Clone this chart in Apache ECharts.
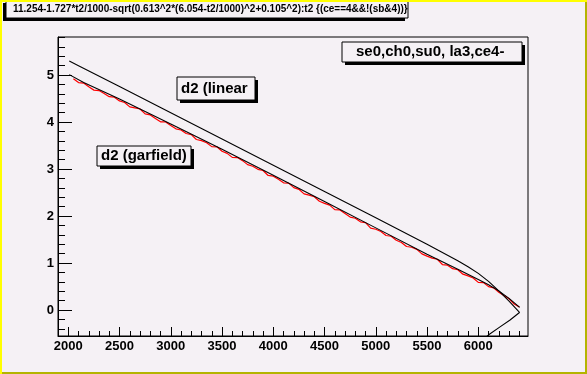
<!DOCTYPE html>
<html>
<head>
<meta charset="utf-8">
<script src="https://cdn.jsdelivr.net/npm/echarts@6/dist/echarts.min.js"></script>
<style>
html,body{margin:0;padding:0;background:#f5f1f5;}
#chart{width:587px;height:374px;}
</style>
</head>
<body>
<div id="chart"></div>
<script>
// ---- data ----
var titleText = "11.254-1.727*t2/1000-sqrt(0.613^2*(6.054-t2/1000)^2+0.105^2):t2 {(ce==4&&!(sb&4))}";
var legendText = "se0,ch0,su0, la3,ce4-";
var labelLinear = "d2 (linear";
var labelGarfield = "d2 (garfield)";

var xMajorTicks = [2000, 2500, 3000, 3500, 4000, 4500, 5000, 5500, 6000];
var xMinorTicks = [1900,2000,2100,2200,2300,2400,2500,2600,2700,2800,2900,3000,3100,3200,3300,3400,3500,3600,3700,3800,3900,4000,4100,4200,4300,4400,4500,4600,4700,4800,4900,5000,5100,5200,5300,5400,5500,5600,5700,5800,5900,6000,6100,6200,6300,6400];
var yMajorTicks = [0, 1, 2, 3, 4, 5];
var yMinorTicks = [-0.4,-0.2,0.2,0.4,0.6,0.8,1.2,1.4,1.6,1.8,2.2,2.4,2.6,2.8,3.2,3.4,3.6,3.8,4.2,4.4,4.6,4.8,5.2,5.4,5.6,5.8];

// "linear" curve (upper), running to a vertex and folding back
var linearT2 = [2010, 2100, 2500, 3000, 3500, 4000, 4500, 5000, 5500, 5700, 5800, 5900, 6000, 6100, 6200, 6300, 6402, 6310, 6212, 6098, 6070];
var linearD2 = [5.30, 5.20, 4.755, 4.198, 3.640, 3.083, 2.524, 1.964, 1.400, 1.169, 1.050, 0.924, 0.782, 0.611, 0.409, 0.190, -0.05, -0.21, -0.355, -0.53, -0.58];

// "garfield" curve (lower, black)
var garfieldT2 = [2010, 2150, 2500, 3000, 3500, 4000, 4500, 5000, 5500, 5800, 6000, 6100, 6200, 6300, 6404];
var garfieldD2 = [5.01, 4.84, 4.49, 3.96, 3.42, 2.87, 2.31, 1.75, 1.19, 0.87, 0.65, 0.54, 0.41, 0.25, 0.06];

// red points scattered around (mostly just below) the garfield curve
var redT2 = [2050,2100,2150,2200,2250,2300,2350,2400,2450,2500,2550,2600,2650,2700,2750,2800,2850,2900,2950,3000,3050,3100,3150,3200,3250,3300,3350,3400,3450,3500,3550,3600,3650,3700,3750,3800,3850,3900,3950,4000,4050,4100,4150,4200,4250,4300,4350,4400,4450,4500,4550,4600,4650,4700,4750,4800,4850,4900,4950,5000,5050,5100,5150,5200,5250,5300,5350,5400,5450,5500,5550,5600,5650,5700,5750,5800,5850,5900,5950,6000,6050,6100,6150,6200,6250,6300,6350,6400];
var redD2 = [4.92,4.84,4.83,4.75,4.68,4.67,4.61,4.54,4.53,4.45,
             4.417,4.324,4.301,4.278,4.175,4.152,4.079,4.006,4.003,3.93,
             3.856,3.832,3.758,3.734,3.63,3.606,3.562,3.478,3.474,3.38,
             3.335,3.25,3.245,3.18,3.095,3.06,2.995,2.97,2.865,2.85,
             2.784,2.708,2.702,2.606,2.57,2.474,2.448,2.412,2.316,2.27,
             2.234,2.138,2.132,2.056,1.98,1.954,1.878,1.862,1.746,1.72,
             1.674,1.588,1.572,1.486,1.44,1.354,1.338,1.292,1.196,1.15,
             1.107,1.083,0.97,0.957,0.883,0.86,0.765,0.73,0.685,0.59,
             0.585,0.50,0.475,0.38,0.31,0.24,0.13,0.067];

function pairs(xs, ys){ var out=[]; for (var i=0;i<xs.length;i++) out.push([xs[i], ys[i]]); return out; }

var BG = '#f5f1f5';
var FONT = '"Liberation Sans", Arial, Helvetica, sans-serif';

var chart = echarts.init(document.getElementById('chart'), null, {renderer:'canvas'});

function box(x, y, w, h, sdx, sdy, text, size, tx) {
  return {
    type:'group', z:50,
    children:[
      {type:'rect', shape:{x:x+sdx, y:y+sdy, width:w, height:h}, style:{fill:'#000'}},
      {type:'rect', shape:{x:x, y:y, width:w, height:h}, style:{fill:BG, stroke:'#000', lineWidth:1}},
      {type:'text', style:{text:text, x:tx, y:y+h/2, font:'bold '+size+'px '+FONT, fill:'#000', textAlign: 'left', textVerticalAlign:'middle'}}
    ]
  };
}

var option = {
  animation:false,
  backgroundColor:BG,
  grid:{left:58, top:37, width:470, height:299, show:true, borderColor:'#000', borderWidth:1, backgroundColor:BG},
  xAxis:[
    {type:'value', min:1900, max:6485, position:'bottom',
     axisLine:{show:true, onZero:false, lineStyle:{color:'#000', width:1}},
     axisTick:{show:true, inside:true, length:9, customValues:xMajorTicks, lineStyle:{color:'#000', width:1}},
     axisLabel:{show:true, customValues:xMajorTicks, formatter:function(v){return String(v);}, color:'#000', fontFamily:FONT, fontWeight:'bold', fontSize:13, margin:4},
     splitLine:{show:false}},
    {type:'value', min:1900, max:6485, position:'bottom',
     axisLine:{show:false, onZero:false},
     axisTick:{show:true, inside:true, length:5, customValues:xMinorTicks, lineStyle:{color:'#000', width:1}},
     axisLabel:{show:false}, splitLine:{show:false}}
  ],
  yAxis:[
    {type:'value', min:-0.55, max:5.81, position:'left',
     axisLine:{show:true, onZero:false, lineStyle:{color:'#000', width:1}},
     axisTick:{show:true, inside:true, length:14, customValues:yMajorTicks, lineStyle:{color:'#000', width:1}},
     axisLabel:{show:true, customValues:yMajorTicks, formatter:function(v){return String(v);}, color:'#000', fontFamily:FONT, fontWeight:'bold', fontSize:13, margin:4},
     splitLine:{show:false}},
    {type:'value', min:-0.55, max:5.81, position:'left',
     axisLine:{show:false, onZero:false},
     axisTick:{show:true, inside:true, length:7, customValues:yMinorTicks, lineStyle:{color:'#000', width:1}},
     axisLabel:{show:false}, splitLine:{show:false}}
  ],
  series:[
    {type:'line', name:'red', data:pairs(redT2, redD2), symbol:'none', showSymbol:false, clip:true,
     lineStyle:{color:'#ff0000', width:1.2}, z:2},
    {type:'line', name:'garfield', data:pairs(garfieldT2, garfieldD2), symbol:'none', showSymbol:false, clip:true,
     lineStyle:{color:'#000', width:1.1}, z:3},
    {type:'line', name:'linear', data:pairs(linearT2, linearD2), symbol:'none', showSymbol:false, clip:true,
     lineStyle:{color:'#000', width:1.1}, z:3}
  ],
  graphic:[
    box(6, 0, 402, 18, -3, 3, titleText, 10, 13),
    box(342, 42, 180, 20, 3, 3, legendText, 15, 356),
    box(177, 77, 78, 23, 3, 3, labelLinear, 15, 181),
    box(97, 146, 94, 20, 3, 3, labelGarfield, 15, 101),
    {type:'rect', z:100, shape:{x:0, y:0, width:587, height:2}, style:{fill:'#ffff00'}},
    {type:'rect', z:100, shape:{x:0, y:0, width:2, height:374}, style:{fill:'#ffff00'}},
    {type:'rect', z:100, shape:{x:585, y:2, width:2, height:372}, style:{fill:'#b4b400'}},
    {type:'rect', z:100, shape:{x:2, y:372, width:585, height:2}, style:{fill:'#b4b400'}}
  ]
};
chart.setOption(option);
</script>
</body>
</html>
